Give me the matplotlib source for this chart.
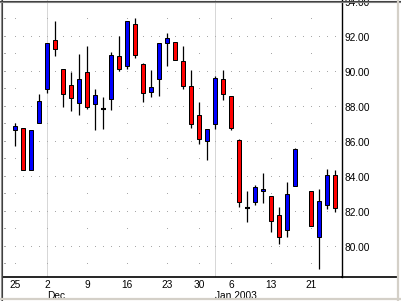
import numpy as np
import matplotlib.pyplot as plt
from matplotlib.patches import Rectangle
from matplotlib.lines import Line2D
import matplotlib.transforms as mtransforms

plt.rcParams['font.family'] = ['Liberation Sans', 'DejaVu Sans']

# trading days (Jan 17 has no data in the source chart)
dates = ['11-25', '11-26', '11-27', '11-29', '12-02', '12-03', '12-04', '12-05', '12-06',
         '12-09', '12-10', '12-11', '12-12', '12-13', '12-16', '12-17', '12-18', '12-19',
         '12-20', '12-23', '12-24', '12-26', '12-27', '12-30', '12-31', '01-02', '01-03',
         '01-06', '01-07', '01-08', '01-09', '01-10', '01-13', '01-14', '01-15', '01-16',
         '01-17', '01-21', '01-22', '01-23', '01-24']
opens = [86.67, 86.78, 84.40, 87.07, 89.01, 91.81, 90.15, 89.24, 88.21,
         90.00, 88.15, 87.87, 88.44, 90.90, 90.33, 92.72, 90.44, 88.84,
         89.58, 91.64, 91.70, 90.61, 89.18, 87.53, 86.04, 87.01, 89.58,
         88.61, 86.10, 82.25, 82.59, 83.18, 82.89, 81.81, 80.95, 83.50,
         np.nan, 83.18, 80.59, 82.38, 84.11]
highs = [87.07, 86.78, 86.67, 88.72, 91.64, 92.91, 90.15, 90.00, 91.03,
         91.49, 89.01, 88.55, 91.12, 92.06, 92.90, 93.10, 90.50, 90.11,
         91.64, 92.23, 91.70, 91.50, 90.11, 88.29, 86.73, 89.77, 90.11,
         88.61, 86.15, 83.20, 83.54, 84.25, 82.89, 82.27, 83.70, 85.64,
         np.nan, 83.18, 83.31, 84.46, 84.40]
lows = [85.79, 84.38, 84.40, 87.07, 88.78, 90.93, 88.02, 87.79, 87.56,
        87.89, 86.70, 86.76, 87.85, 90.07, 90.15, 90.78, 88.31, 88.59,
        88.65, 90.36, 90.67, 89.01, 86.78, 85.87, 84.97, 86.73, 88.38,
        86.70, 82.30, 81.45, 82.42, 82.49, 80.87, 80.17, 80.59, 83.50,
        np.nan, 81.18, 78.73, 82.15, 81.98]
closes = [86.90, 84.40, 86.67, 88.33, 91.64, 91.30, 88.73, 88.53, 89.58,
          87.98, 88.67, 87.87, 90.95, 90.15, 92.90, 90.95, 88.78, 89.12,
          91.64, 91.92, 90.67, 89.18, 87.01, 86.15, 86.73, 89.64, 88.73,
          86.78, 82.55, 82.25, 83.41, 83.31, 81.47, 80.55, 83.01, 85.58,
          np.nan, 81.18, 82.61, 84.11, 82.21]

week_labels = ['25', '2', '9', '16', '23', '30', '6', '13', '21']
week_dates = ['11-25', '12-02', '12-09', '12-16', '12-23', '12-30', '01-06', '01-13', '01-21']
month_labels = ['Dec', 'Jan 2003']
month_dates = ['12-02', '01-02']
price_ticks = [80, 82, 84, 86, 88, 90, 92, 94]

W, H = 401, 301
fig = plt.figure(figsize=(W / 100, H / 100), dpi=100)
fig.patch.set_facecolor('white')
ax = fig.add_axes([3 / W, (H - 277) / H, 339 / W, 277 / H])

xmin = -1.54
xmax = xmin + 339 / 8
ymax = 92 + 37 / 17.5
ymin = ymax - 277 / 17.5
ax.set_xlim(xmin, xmax)
ax.set_ylim(ymin, ymax)

pos = {d: i for i, d in enumerate(dates)}
week_pos = [pos[d] for d in week_dates]
month_pos = [pos[d] for d in month_dates]

# dotted grid: even prices at every slot, odd prices only on week slots
grid_c = '#a8a8a8'
for p in range(79, 95):
    xs = list(range(len(dates))) if p % 2 == 0 else week_pos
    ax.plot(xs, [p] * len(xs), ',', color=grid_c, zorder=1)
    ax.plot([xmin + 0.12], [p], ',', color=grid_c, zorder=1)
    ax.plot([xmin + 0.25], [p], ',', color=grid_c, zorder=1)
for m in month_pos:
    ax.axvline(m, color='#b0b0b0', lw=0.72, ls=(0, (1, 1)), zorder=1)

# candles
bw = 0.5
for i in range(len(dates)):
    o, h, l, c = opens[i], highs[i], lows[i], closes[i]
    if np.isnan(o):
        continue
    ax.plot([i, i], [l, h], color='black', lw=0.9, zorder=2, solid_capstyle='butt')
    if abs(c - o) < 0.02:
        ax.plot([i - bw / 2 - 0.06, i + bw / 2 + 0.06], [o, o], color='black', lw=1.5,
                zorder=3, solid_capstyle='butt')
        continue
    col = '#0000ff' if c > o else '#ff0000'
    ax.add_patch(Rectangle((i - bw / 2, min(o, c)), bw, abs(c - o), facecolor=col,
                           edgecolor='black', lw=0.72, zorder=3))

for s in ['top', 'left']:
    ax.spines[s].set_visible(False)
ax.spines['right'].set_linewidth(1.0)
ax.spines['bottom'].set_linewidth(1.2)

ax.yaxis.tick_right()
ax.set_yticks(price_ticks)
ax.set_yticklabels(['%.2f' % p for p in price_ticks])
ax.tick_params(axis='y', length=0, pad=2, labelsize=7.3)
ax.set_xticks(week_pos)
ax.set_xticklabels(week_labels)
ax.tick_params(axis='x', length=0, pad=2.5, labelsize=7.3)

trans = mtransforms.blended_transform_factory(ax.transData, ax.transAxes)
for lab, m in zip(month_labels, month_pos):
    ax.text(m - 0.05, -0.049, lab, transform=trans, ha='left', va='top', fontsize=7.3)

# bottom axis line continues under the price labels
fig.add_artist(Line2D([342 / W, 397 / W], [(H - 277) / H] * 2, color='black', lw=1.2,
                      transform=fig.transFigure))

# window border
fig.add_artist(Line2D([0.5 / W, 0.5 / W], [0, 1], color='#909090', lw=0.8,
                      transform=fig.transFigure))
fig.add_artist(Line2D([1.6 / W, 1.6 / W], [0, 1], color='#404040', lw=0.8,
                      transform=fig.transFigure))
fig.add_artist(Line2D([0, 1], [1 - 0.5 / H] * 2, color='#404040', lw=0.8,
                      transform=fig.transFigure))
fig.add_artist(Line2D([0, 1], [1 - 1.6 / H] * 2, color='#808080', lw=0.8,
                      transform=fig.transFigure))
fig.add_artist(Line2D([397.5 / W, 397.5 / W], [0, 1], color='#d4d0c8', lw=1.6,
                      transform=fig.transFigure))
fig.add_artist(Line2D([0, 1], [1.8 / H] * 2, color='#d4d0c8', lw=1.6,
                      transform=fig.transFigure))

fig.savefig('out.png', dpi=100)
